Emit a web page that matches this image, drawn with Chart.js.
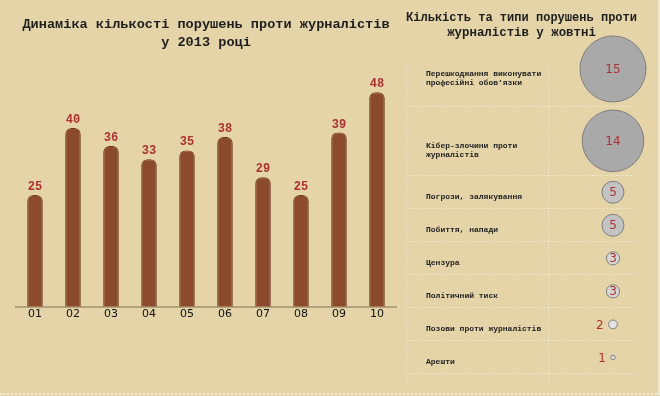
<!DOCTYPE html>
<html>
<head>
<meta charset="utf-8">
<script src="https://cdn.jsdelivr.net/npm/chart.js@4.4.1/dist/chart.umd.min.js"></script>
<style>
    html, body { margin: 0; padding: 0; }
    body { width: 660px; height: 396px; background: #e4d4a8; position: relative; overflow: hidden; }
    #frame { position: absolute; left: 0; top: 0; width: 658px; height: 393px; border-right: 2px solid #efe7cf; border-bottom: 2px dotted #f3ecd6; }
    #dynamika { position: absolute; left: 0; top: 0; }
    #typy { position: absolute; left: 390px; top: 0; }
</style>
</head>
<body>
<div id="frame"></div>
<canvas id="dynamika" width="400" height="396"></canvas>
<canvas id="typy" width="262" height="396"></canvas>
<script>
// дані: порушення по місяцях 2013
const months = ['01', '02', '03', '04', '05', '06', '07', '08', '09', '10'];
const monthlyCounts = [25, 40, 36, 33, 35, 38, 29, 25, 39, 48];

// дані: типи порушень у жовтні
const violationTypes = [
    ['Перешкоджання виконувати', 'професійні обов’язки'],
    ['Кібер-злочини проти', 'журналістів'],
    ['Погрози, залякування'],
    ['Побиття, напади'],
    ['Цензура'],
    ['Політичний тиск'],
    ['Позови проти журналістів'],
    ['Арешти']
];
const octoberCounts = [15, 14, 5, 5, 3, 3, 2, 1];

const mono = '"Liberation Mono", "Courier New", monospace';
const sans = '"DejaVu Sans", Verdana, sans-serif';
const numberRed = '#ad3131';

// цифри над стовпцями
const barValues = {
    id: 'barValues',
    afterDatasetsDraw(chart) {
        const { ctx } = chart;
        const values = chart.data.datasets[0].data;
        ctx.save();
        ctx.font = `bold 12px ${mono}`;
        ctx.fillStyle = numberRed;
        ctx.textAlign = 'center';
        ctx.textBaseline = 'alphabetic';
        chart.getDatasetMeta(0).data.forEach((bar, i) => {
            ctx.fillText(values[i], bar.x, bar.y - 5);
        });
        ctx.restore();
    }
};

new Chart(document.getElementById('dynamika'), {
    type: 'bar',
    data: {
        labels: months,
        datasets: [{
            data: monthlyCounts,
            backgroundColor: '#8a4a2b',
            borderColor: '#6f3a20',
            borderWidth: 1,
            borderRadius: { topLeft: 6, topRight: 6 },
            borderSkipped: 'bottom',
            barPercentage: 0.41,
            categoryPercentage: 1
        }]
    },
    options: {
        responsive: false,
        animation: false,
        layout: { padding: { left: 16, right: 4, top: 0, bottom: 74 } },
        plugins: {
            legend: { display: false },
            tooltip: { enabled: false },
            title: {
                display: true,
                text: ['Динаміка кількості порушень проти журналістів', 'у 2013 році'],
                color: '#1e1e1e',
                font: { family: mono, size: 13.6, weight: 'bold', lineHeight: 1.3 },
                padding: { top: 16, bottom: 32 }
            }
        },
        scales: {
            x: {
                grid: { display: false, drawTicks: false },
                border: { display: true, color: '#b3a37c', width: 2 },
                ticks: { color: '#111', font: { family: sans, size: 11 }, padding: 1 }
            },
            y: { display: false, min: 0, max: 50 }
        }
    },
    plugins: [barValues]
});

// розкладка рядків таблиці під розмір кульок
const bubbleRadius = v => v * 2.2;
const rowHeights = octoberCounts.map(v => Math.max(33, 2 * bubbleRadius(v) + 8));
const rowEdges = [];
let acc = 0;
rowHeights.forEach(h => { acc += h; rowEdges.push(acc); });
const rowCenters = rowEdges.map((e, i) => e - rowHeights[i] / 2);
const bubbleColumnX = 0.896;
const dividerX = 0.619;

const bubbleFill = v => v >= 10 ? '#a9a9a9' : v >= 5 ? '#c3c3c3' : v >= 3 ? '#d6d6d6' : '#e2e2e2';

// підписи рядків і числа
const rowText = {
    id: 'rowText',
    afterDatasetsDraw(chart) {
        const { ctx, chartArea } = chart;
        ctx.save();
        ctx.textBaseline = 'middle';
        chart.getDatasetMeta(0).data.forEach((pt, i) => {
            ctx.font = `bold 8px ${mono}`;
            ctx.fillStyle = '#222';
            ctx.textAlign = 'left';
            violationTypes[i].forEach((line, k) => {
                ctx.fillText(line, chartArea.left + 20, pt.y + 5 + k * 9);
            });

            const v = octoberCounts[i];
            const r = bubbleRadius(v);
            ctx.font = `12px ${sans}`;
            ctx.fillStyle = numberRed;
            if (r > 6) {
                ctx.textAlign = 'center';
                ctx.fillText(v, pt.x, pt.y + 1);
            } else {
                ctx.textAlign = 'right';
                ctx.fillText(v, pt.x - r - 5, pt.y + 1);
            }
        });
        ctx.restore();
    }
};

const dotted = {
    grid: { color: '#f6f0de', lineWidth: 1, drawTicks: false },
    border: { display: false, dash: [1, 2] },
    ticks: { display: false }
};

new Chart(document.getElementById('typy'), {
    type: 'bubble',
    data: {
        datasets: [{
            data: octoberCounts.map((v, i) => ({ x: bubbleColumnX, y: rowCenters[i], r: bubbleRadius(v) })),
            backgroundColor: octoberCounts.map(bubbleFill),
            borderColor: '#7d7d7d',
            borderWidth: 1,
            clip: false
        }]
    },
    options: {
        responsive: false,
        animation: false,
        layout: { autoPadding: false, padding: { left: 16, right: 15, top: 0, bottom: 13 } },
        plugins: {
            legend: { display: false },
            tooltip: { enabled: false },
            title: {
                display: true,
                text: ['Кількість та типи порушень проти', 'журналістів у жовтні'],
                color: '#1e1e1e',
                font: { family: mono, size: 12.4, weight: 'bold', lineHeight: 1.2 },
                padding: { top: 10.5, bottom: 26.7 }
            }
        },
        scales: {
            x: {
                type: 'linear', min: 0, max: 1,
                afterBuildTicks: s => { s.ticks = [{ value: 0 }, { value: dividerX }]; },
                ...dotted
            },
            y: {
                type: 'linear', reverse: true,
                min: rowHeights[0] / 2 - 2, max: acc + 9,
                afterBuildTicks: s => { s.ticks = rowEdges.map(v => ({ value: v })); },
                ...dotted
            }
        }
    },
    plugins: [rowText]
});
</script>
</body>
</html>
